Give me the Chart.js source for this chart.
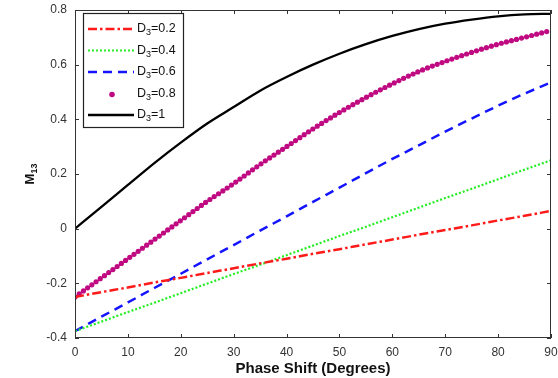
<!DOCTYPE html>
<html>
<head>
<meta charset="utf-8">
<script src="https://cdn.jsdelivr.net/npm/chart.js@4.4.1/dist/chart.umd.min.js"></script>
<style>
  html, body { margin: 0; padding: 0; background: #fff; }
  #wrap { position: relative; width: 558px; height: 378px; }
</style>
</head>
<body>
<div id="wrap"><canvas id="chart"></canvas></div>
<script>
// phase shift in degrees
const phase = [0, 5, 10, 15, 20, 25, 30, 35, 40, 45, 50, 55, 60, 65, 70, 75, 80, 85, 90];

// M13 for each D3
const m13_d02 = [-0.25, -0.232, -0.215, -0.197, -0.18, -0.162, -0.145, -0.127, -0.11, -0.092, -0.075, -0.057, -0.04, -0.022, -0.005, 0.012, 0.03, 0.047, 0.065];
const m13_d04 = [-0.375, -0.34, -0.305, -0.271, -0.236, -0.201, -0.166, -0.132, -0.097, -0.062, -0.027, 0.007, 0.042, 0.077, 0.112, 0.146, 0.181, 0.216, 0.25];
const m13_d06 = [-0.375, -0.322, -0.27, -0.217, -0.165, -0.112, -0.06, -0.007, 0.045, 0.098, 0.15, 0.203, 0.255, 0.305, 0.355, 0.403, 0.45, 0.494, 0.535];
const m13_d08 = [-0.25, -0.18, -0.11, -0.04, 0.03, 0.10, 0.165, 0.235, 0.30, 0.365, 0.425, 0.48, 0.53, 0.575, 0.612, 0.645, 0.675, 0.70, 0.725];
const m13_d1  = [0, 0.08, 0.16, 0.24, 0.315, 0.385, 0.445, 0.505, 0.555, 0.60, 0.64, 0.675, 0.705, 0.73, 0.75, 0.765, 0.777, 0.784, 0.786];

const legendVals = ['0.2', '0.4', '0.6', '0.8', '1'];

const FONT = '"Liberation Sans", Arial, sans-serif';
const AXIS_COLOR = '#333';

function series(data, color, dash, width, extra) {
  return Object.assign({
    data: phase.map((p, i) => ({ x: p, y: data[i] })),
    borderColor: color, backgroundColor: color,
    borderWidth: width, borderDash: dash,
    pointRadius: 0, fill: false, cubicInterpolationMode: 'monotone'
  }, extra || {});
}

// MATLAB-style box with inward ticks on all four sides
const framePlugin = {
  id: 'frame',
  afterDatasetsDraw(chart) {
    const { ctx, chartArea: a, scales: { x, y } } = chart;
    ctx.save();
    ctx.strokeStyle = AXIS_COLOR;
    ctx.lineWidth = 1;
    ctx.setLineDash([]);
    ctx.strokeRect(a.left + 0.5, a.top + 0.5, a.width - 1, a.height - 1);
    ctx.beginPath();
    x.ticks.forEach(t => {
      const px = Math.round(x.getPixelForValue(t.value)) + 0.5;
      ctx.moveTo(px, a.bottom); ctx.lineTo(px, a.bottom - 4);
      ctx.moveTo(px, a.top); ctx.lineTo(px, a.top + 4);
    });
    y.ticks.forEach(t => {
      const py = Math.round(y.getPixelForValue(t.value)) + 0.5;
      ctx.moveTo(a.left, py); ctx.lineTo(a.left + 4, py);
      ctx.moveTo(a.right, py); ctx.lineTo(a.right - 4, py);
    });
    ctx.stroke();
    ctx.restore();
  }
};

// legend box with D_3 subscripts
const legendPlugin = {
  id: 'subLegend',
  afterDraw(chart) {
    const ctx = chart.ctx;
    const a = chart.chartArea;
    const bx = a.left + 8, by = a.top + 3, bw = 100, bh = 114;
    ctx.save();
    ctx.fillStyle = '#fff';
    ctx.fillRect(bx, by, bw, bh);
    ctx.strokeStyle = '#222';
    ctx.lineWidth = 1.2;
    ctx.strokeRect(bx + 0.5, by + 0.5, bw, bh);
    chart.data.datasets.forEach((ds, i) => {
      const cy = by + 16 + i * 21.5;
      ctx.strokeStyle = ds.borderColor;
      if (ds.dots) {
        ctx.fillStyle = ds.borderColor;
        ctx.beginPath();
        ctx.arc(bx + 29, cy + 1, 2.8, 0, Math.PI * 2);
        ctx.fill();
      } else {
        ctx.lineWidth = ds.borderWidth;
        ctx.setLineDash(ds.borderDash || []);
        ctx.beginPath();
        ctx.moveTo(bx + 5, cy); ctx.lineTo(bx + 51, cy);
        ctx.stroke();
      }
      ctx.setLineDash([]);
      ctx.fillStyle = '#111';
      ctx.textBaseline = 'middle';
      ctx.textAlign = 'left';
      let tx = bx + 54;
      ctx.font = '12.5px ' + FONT;
      ctx.fillText('D', tx, cy);
      tx += ctx.measureText('D').width;
      ctx.font = '9px ' + FONT;
      ctx.fillText('3', tx, cy + 4);
      tx += ctx.measureText('3').width;
      ctx.font = '12.5px ' + FONT;
      ctx.fillText('=' + legendVals[i], tx, cy);
    });
    ctx.restore();
  }
};

// rotated y title M_13
const yTitlePlugin = {
  id: 'yTitle',
  afterDraw(chart) {
    const ctx = chart.ctx;
    ctx.save();
    ctx.translate(30, 174);
    ctx.rotate(-Math.PI / 2);
    ctx.fillStyle = '#111';
    ctx.textBaseline = 'middle';
    ctx.textAlign = 'left';
    ctx.font = 'bold 13px ' + FONT;
    const wM = ctx.measureText('M').width;
    ctx.font = 'bold 9px ' + FONT;
    const wS = ctx.measureText('13').width;
    const x0 = -(wM + wS) / 2;
    ctx.font = 'bold 13px ' + FONT;
    ctx.fillText('M', x0, 0);
    ctx.font = 'bold 9px ' + FONT;
    ctx.fillText('13', x0 + wM, 5);
    ctx.restore();
  }
};

new Chart(document.getElementById('chart').getContext('2d'), {
  type: 'line',
  data: {
    datasets: [
      series(m13_d02, '#ff1a1a', [9, 3, 2.5, 3], 2.5),
      series(m13_d04, '#22ee22', [2, 2], 2.2),
      series(m13_d06, '#1414ff', [9, 6], 2.5),
      series(m13_d08, '#bf0a82', [0, 5.2], 5.2, { borderCapStyle: 'round', dots: true }),
      series(m13_d1, '#000', [], 2.3)
    ]
  },
  options: {
    responsive: true, maintainAspectRatio: false, animation: false,
    layout: { padding: { top: 10, right: 7, left: 0, bottom: 0 } },
    plugins: { legend: { display: false }, tooltip: { enabled: false } },
    scales: {
      x: {
        type: 'linear', min: 0, max: 90,
        grid: { display: false, drawTicks: false },
        border: { display: false },
        ticks: { stepSize: 10, padding: 7, color: AXIS_COLOR, maxRotation: 0, font: { size: 12, family: FONT } },
        title: { display: true, text: 'Phase Shift (Degrees)', color: '#111', padding: 0, font: { size: 15, weight: 'bold', family: FONT } },
        afterFit: s => { s.height = 40; s.paddingLeft = 0; s.paddingRight = 0; }
      },
      y: {
        min: -0.4, max: 0.8,
        grid: { display: false, drawTicks: false },
        border: { display: false },
        ticks: { stepSize: 0.2, padding: 8, color: AXIS_COLOR, font: { size: 12, family: FONT },
          callback: v => String(Number(v.toFixed(1))) },
        afterFit: s => { s.width = 75; s.paddingTop = 0; s.paddingBottom = 0; }
      }
    }
  },
  plugins: [framePlugin, legendPlugin, yTitlePlugin]
});
</script>
</body>
</html>
